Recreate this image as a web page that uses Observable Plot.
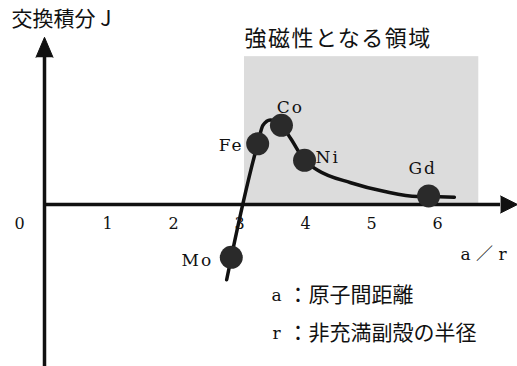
<!DOCTYPE html>
<html><head><meta charset="utf-8">
<script src="https://cdn.jsdelivr.net/npm/d3@7"></script>
<script src="https://cdn.jsdelivr.net/npm/@observablehq/plot@0.6"></script>
<style>
body{margin:0;background:#fff}
svg{display:block}
</style>
</head><body><div id="chart"></div>
<script>
// ---- data ----
const elements = ["Mo", "Fe", "Co", "Ni", "Gd"];
const ratio = [2.83, 3.23, 3.59, 3.94, 5.82];      // a / r
const exchange = [-0.80, 0.92, 1.20, 0.67, 0.13];  // exchange integral J (arb. units)
const curveRatio = [2.76, 2.83, 3.23, 3.31, 3.42, 3.59, 3.73, 3.94, 4.14, 4.64, 5.14, 5.65, 5.82, 6.21];
const curveJ = [-1.14, -0.80, 0.92, 1.20, 1.28, 1.20, 1.00, 0.67, 0.52, 0.33, 0.20, 0.12, 0.12, 0.11];
const tickValues = [1, 2, 3, 4, 5, 6];
const regionRatio = [3.03, 6.58];   // ferromagnetic region in a/r
const regionJ = [0, 2.24];
const xAxisEnd = 6.91;
const yAxisEnd = 2.23;

// ---- layout ----
const W = 517, H = 366, x0 = 44, y0 = 204, ppu = 66;
const xDomain = [-x0 / ppu, (W - x0) / ppu];
const yDomain = [-(H - y0) / ppu, y0 / ppu];
const ink = "#111";
const serif = "'DejaVu Serif', 'Liberation Serif', serif";
const cjk = "'Noto Sans CJK JP', 'Noto Sans', sans-serif";

const points = elements.map((e, i) => ({e, x: ratio[i], y: exchange[i]}));
const curve = curveRatio.map((x, i) => ({x, y: curveJ[i]}));
const labelPos = {
  Mo: {dx: -18, dy: 3, anchor: "end"},
  Fe: {dx: -14, dy: 2, anchor: "end"},
  Co: {dx: 9, dy: -18, anchor: "middle"},
  Ni: {dx: 11, dy: -3, anchor: "start"},
  Gd: {dx: -6, dy: -27, anchor: "middle"}
};

const note = (text, dx, dy, opts = {}) => Plot.text([text], {
  text: d => d, frameAnchor: "top-left", dx, dy, textAnchor: "start", lineAnchor: "middle",
  fill: ink, fontFamily: cjk, fontSize: 21, ...opts
});

const plot = Plot.plot({
  width: W, height: H, margin: 0,
  x: {domain: xDomain, axis: null},
  y: {domain: yDomain, axis: null},
  style: {background: "#fff", overflow: "visible"},
  marks: [
    Plot.rect([0], {x1: () => regionRatio[0], x2: () => regionRatio[1], y1: () => regionJ[0], y2: () => regionJ[1], fill: "#dcdcdc"}),
    // axes
    Plot.ruleY([0], {x1: 0, x2: xAxisEnd, stroke: ink, strokeWidth: 3.5}),
    Plot.vector([0], {x: () => xAxisEnd, y: 0, length: 17, rotate: 90, anchor: "start", shape: "spike", r: 8.5, fill: ink, stroke: ink, strokeWidth: 1}),
    Plot.ruleX([0], {y1: yDomain[0], y2: yAxisEnd, stroke: ink, strokeWidth: 3.5}),
    Plot.vector([0], {x: 0, y: () => yAxisEnd, length: 20, rotate: 0, anchor: "start", shape: "spike", r: 8.5, fill: ink, stroke: ink, strokeWidth: 1}),
    // tick labels
    Plot.text(tickValues, {x: d => d, y: 0, text: d => String(d), dx: -3, dy: 19, fontSize: 16, fontFamily: serif, fill: ink}),
    Plot.text(["0"], {x: 0, y: 0, text: d => d, dx: -25, dy: 19, fontSize: 16, fontFamily: serif, fill: ink}),
    // curve and points
    Plot.line(curve, {x: "x", y: "y", curve: "monotone-x", stroke: ink, strokeWidth: 3.5}),
    Plot.dot(points, {x: "x", y: "y", r: 11.5, fill: "#2a2a2a", stroke: "none"}),
    ...elements.map(e => Plot.text(points.filter(p => p.e === e), {
      x: "x", y: "y", text: "e", dx: labelPos[e].dx, dy: labelPos[e].dy, textAnchor: labelPos[e].anchor,
      fontSize: 17, fontFamily: serif, fill: ink
    })),
    // annotations
    note("交換積分 J", 11, 19),
    note("強磁性となる領域", 244, 38, {fontSize: 22}),
    Plot.text(["a ／ r"], {text: d => d, frameAnchor: "top-left", dx: 460, dy: 254, textAnchor: "start", lineAnchor: "middle", fontFamily: serif + ", 'Noto Sans CJK JP'", fontSize: 17, fill: ink}),
    Plot.text(["a"], {text: d => d, frameAnchor: "top-left", dx: 271, dy: 295, textAnchor: "start", lineAnchor: "middle", fontFamily: serif, fontSize: 17, fill: ink}),
    note("：原子間距離", 287, 295),
    Plot.text(["r"], {text: d => d, frameAnchor: "top-left", dx: 272, dy: 333, textAnchor: "start", lineAnchor: "middle", fontFamily: serif, fontSize: 17, fill: ink}),
    note("：非充満副殻の半径", 287, 333)
  ]
});
// letter spacing for element labels and the region title
d3.select(plot).selectAll("text")
  .filter(function() { return elements.includes(this.textContent); })
  .attr("letter-spacing", 2);
d3.select(plot).selectAll("text")
  .filter(function() { return this.textContent === "強磁性となる領域"; })
  .attr("letter-spacing", 1.5);
document.getElementById("chart").appendChild(plot);
</script>
</body></html>
